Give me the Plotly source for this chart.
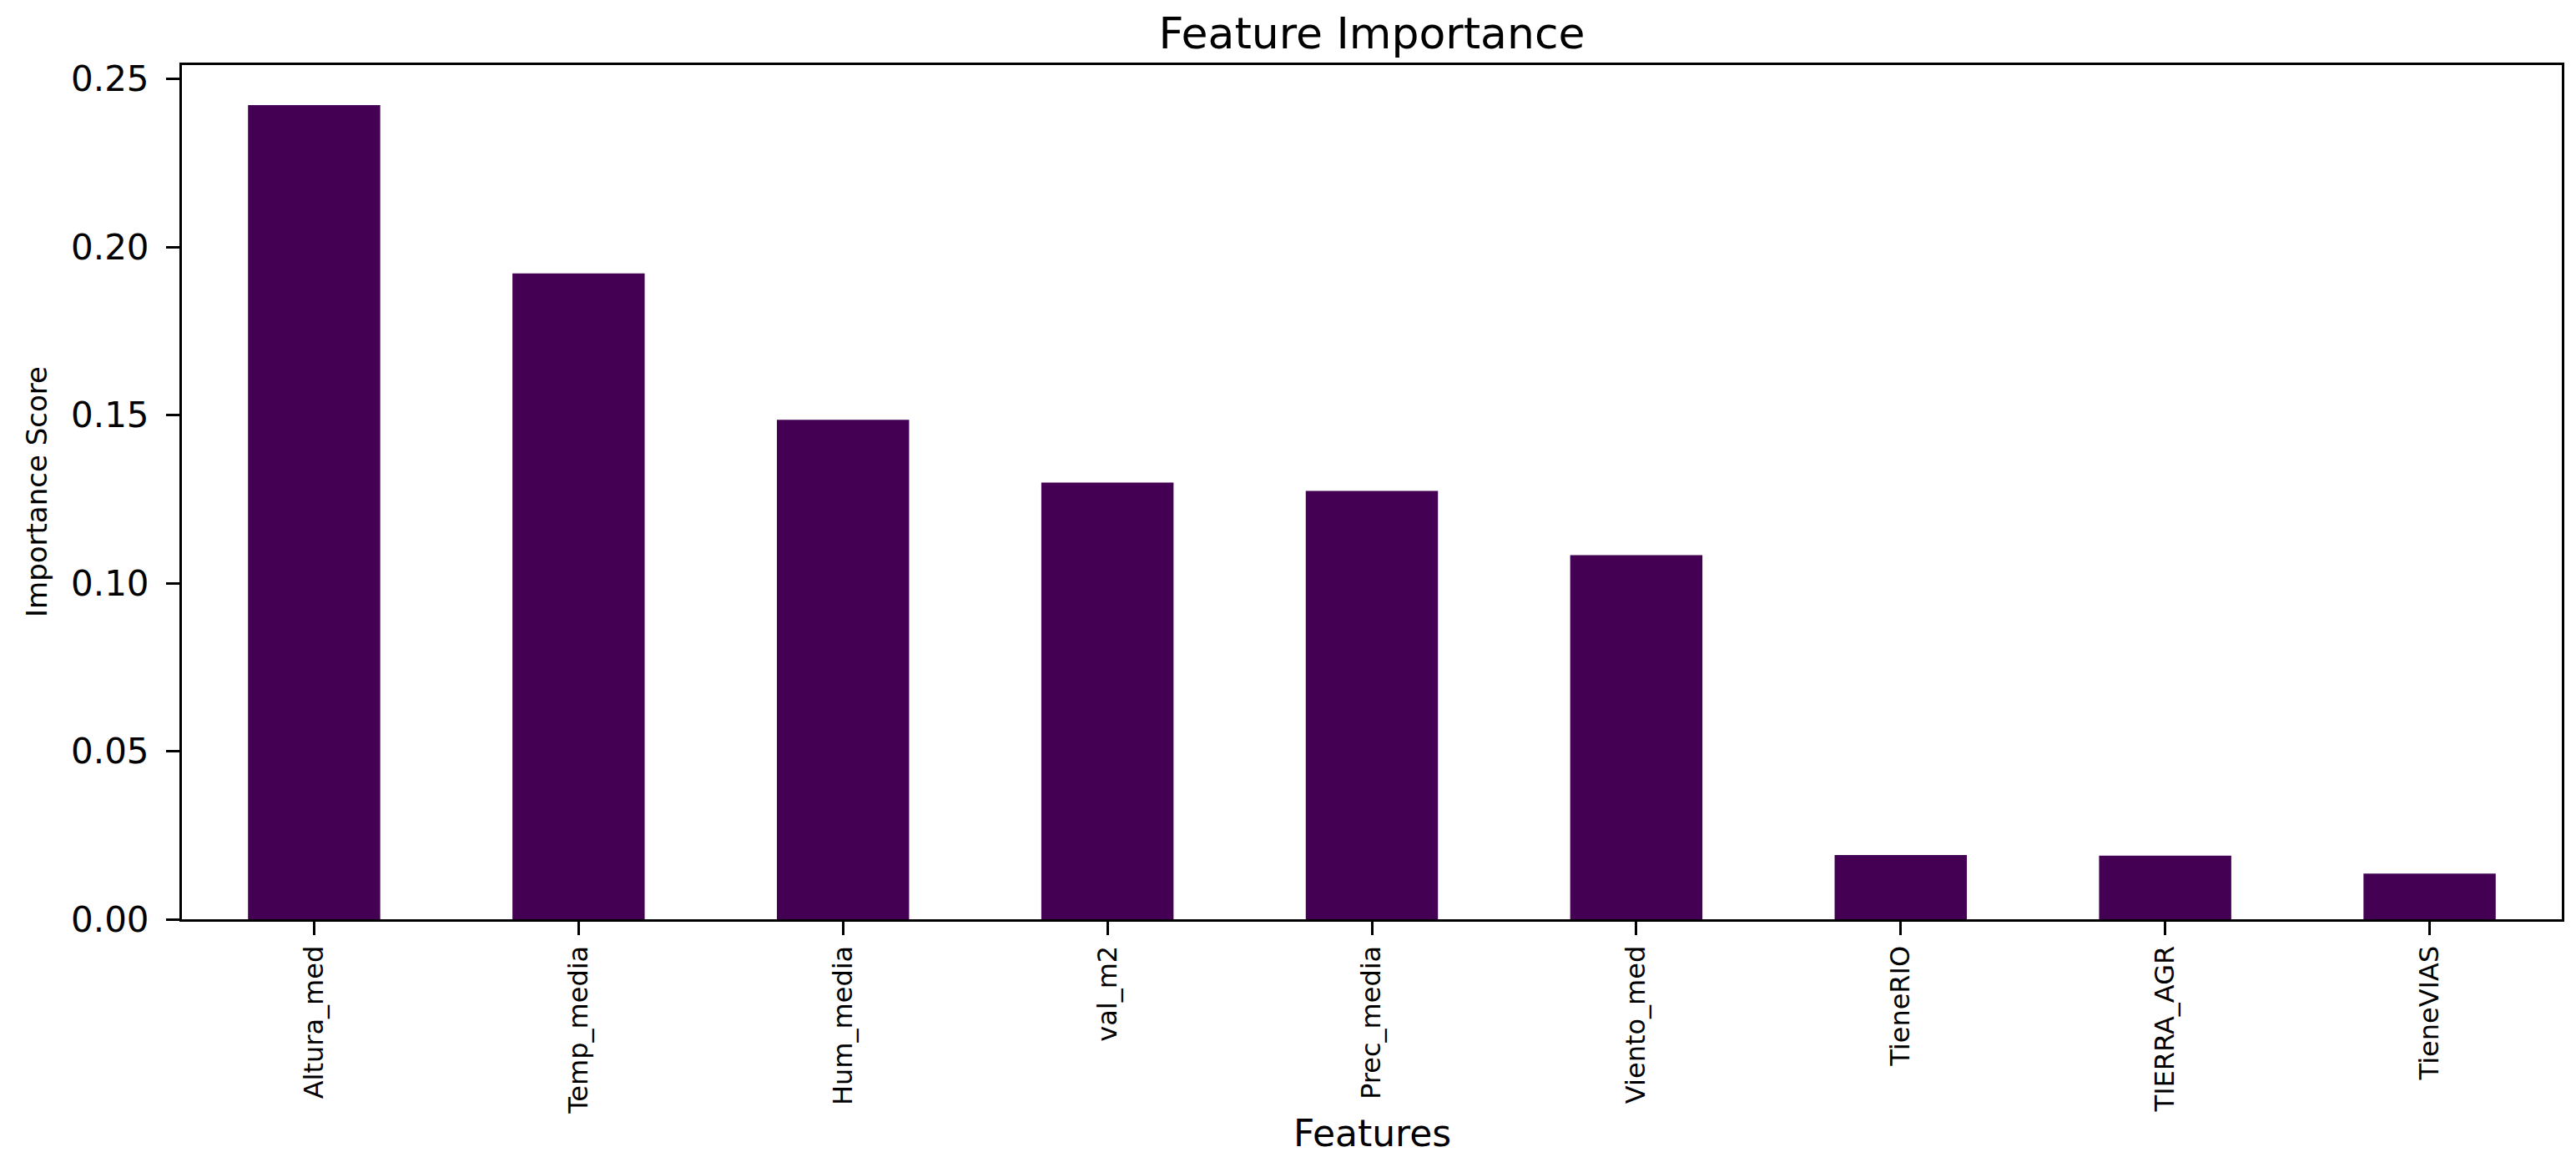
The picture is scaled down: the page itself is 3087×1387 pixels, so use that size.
import plotly.graph_objects as go

# Datos
features = ['Altura_med', 'Temp_media', 'Hum_media', 'val_m2', 'Prec_media',
            'Viento_med', 'TieneRIO', 'TIERRA_AGR', 'TieneVIAS']
importance = [0.2422, 0.1921, 0.1486, 0.1299, 0.1274, 0.1083, 0.0191, 0.0189, 0.0136]
y_ticks = [0.00, 0.05, 0.10, 0.15, 0.20, 0.25]

W, H = 3087, 1387
L, R, T, B = 210, 25, 70, 293
plot_w = W - L - R
plot_h = H - T - B

fig = go.Figure()
fig.add_trace(go.Bar(x=features, y=importance, width=0.5,
                     marker=dict(color='#440154', line=dict(width=0))))

fig.update_layout(
    width=W, height=H,
    margin=dict(l=L, r=R, t=T, b=B, autoexpand=False),
    plot_bgcolor='white', paper_bgcolor='white',
    font=dict(family='DejaVu Sans', color='black'),
    showlegend=False,
    title=dict(text='Feature Importance', x=0.5, xref='paper', xanchor='center',
               y=1 - 32 / H, yref='container', yanchor='middle',
               font=dict(size=52, color='black')),
)

fig.update_xaxes(range=[-0.5, 8.5], showline=True, linecolor='black', linewidth=3,
                 mirror=True, ticks='outside', ticklen=16, tickwidth=3, tickcolor='black',
                 tickangle=-90, tickfont=dict(size=32), showgrid=False,
                 automargin=False, ticklabelstandoff=0)
fig.update_yaxes(range=[0, 0.2541], tickvals=y_ticks, ticktext=[f'{v:.2f}' for v in y_ticks],
                 showline=True, linecolor='black', linewidth=3, mirror=True,
                 ticks='outside', ticklen=16, tickwidth=3, tickcolor='black',
                 tickfont=dict(size=42), showgrid=False, zeroline=False,
                 automargin=False, ticklabelstandoff=12)

# Títulos de ejes
fig.add_annotation(text='Features', xref='paper', yref='paper', x=0.5,
                   y=(T + plot_h - 1350) / plot_h, xanchor='center', yanchor='middle',
                   showarrow=False, font=dict(size=44))
fig.add_annotation(text='Importance Score', xref='paper', yref='paper',
                   x=(36 - L) / plot_w, y=0.5, xanchor='center', yanchor='middle',
                   textangle=-90, showarrow=False, font=dict(size=34))

fig.write_html("out.html")
